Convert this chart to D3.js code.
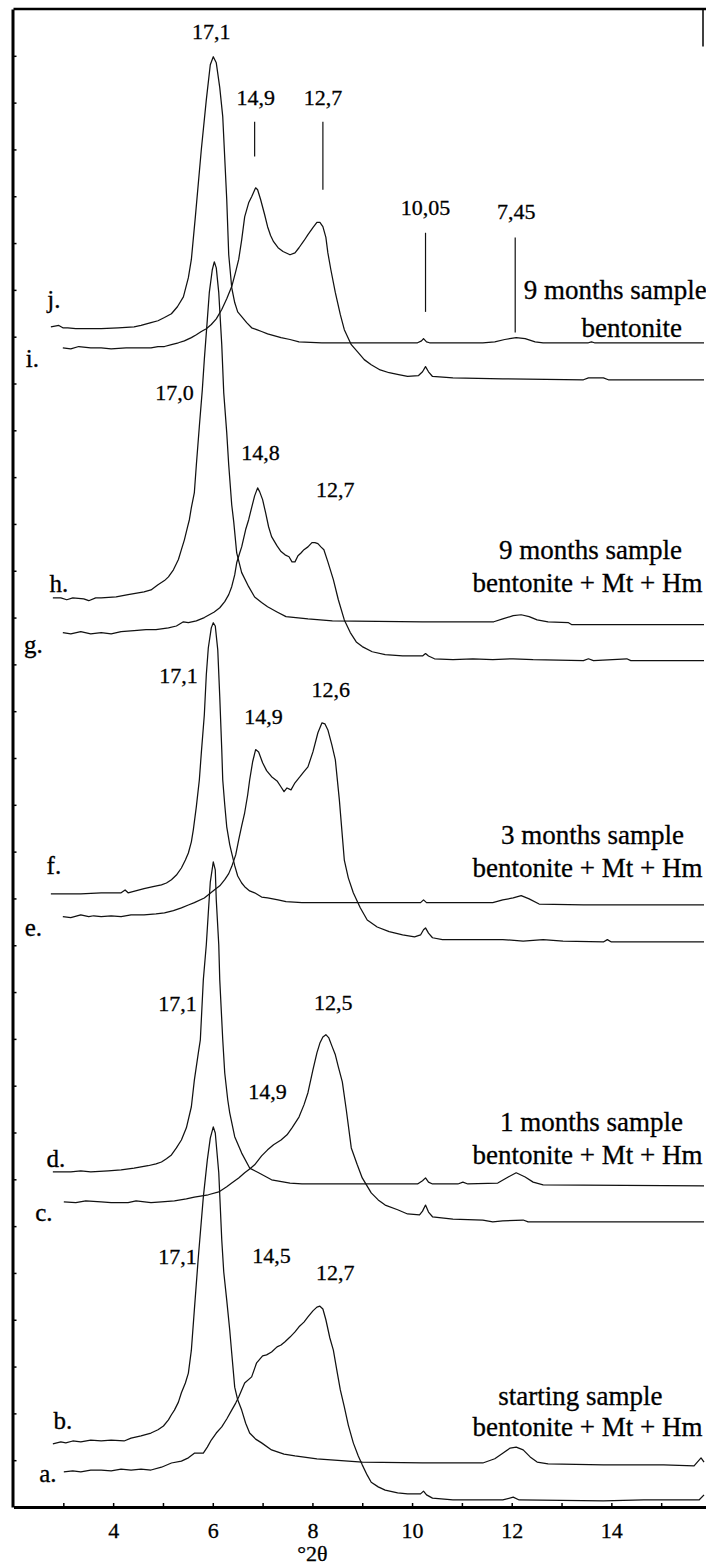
<!DOCTYPE html>
<html>
<head>
<meta charset="utf-8">
<script src="https://cdn.jsdelivr.net/npm/d3@7"></script>
<style>
  html, body { margin: 0; padding: 0; background: #fff; }
  svg { display: block; }
  text { font-family: "Liberation Serif", "Times New Roman", serif; fill: #000; stroke: #000; stroke-width: 0.3px; }
</style>
</head>
<body>
<svg id="chart" width="706" height="1568"></svg>
<script>
// X-ray diffraction patterns (°2θ vs. stacked intensity, arbitrary units)
// Each pattern: [2θ, intensity]
const patternJ = [[2.75,25.21],[2.91,25.24],[2.99,25.19],[3.09,25.19],[3.25,25.17],[3.49,25.17],[3.76,25.17],[4.10,25.19],[4.42,25.21],[4.56,25.24],[4.76,25.30],[4.90,25.34],[5.03,25.41],[5.17,25.49],[5.29,25.64],[5.41,25.85],[5.51,26.26],[5.57,26.65],[5.65,27.56],[5.77,29.00],[5.87,30.06],[5.95,30.81],[6.01,30.98],[6.07,30.85],[6.14,30.32],[6.20,29.70],[6.28,27.93],[6.32,26.75],[6.38,26.05],[6.44,25.73],[6.50,25.53],[6.58,25.43],[6.68,25.30],[6.78,25.19],[6.88,25.15],[6.98,25.11],[7.10,25.06],[7.37,24.98],[7.55,24.94],[7.73,24.89],[8.19,24.87],[10.11,24.87],[10.19,24.91],[10.23,24.96],[10.29,24.89],[10.35,24.87],[11.42,24.87],[11.66,24.89],[11.86,24.94],[12.09,24.98],[12.27,24.96],[12.47,24.89],[12.63,24.87],[13.54,24.87],[13.60,24.89],[13.66,24.87],[15.86,24.87]];
const patternI = [[2.99,24.76],[3.15,24.74],[3.31,24.79],[3.55,24.76],[3.76,24.76],[3.96,24.74],[4.26,24.76],[4.56,24.76],[4.76,24.76],[4.90,24.79],[5.03,24.79],[5.17,24.83],[5.31,24.87],[5.43,24.91],[5.57,24.98],[5.67,25.04],[5.77,25.11],[5.87,25.17],[5.97,25.26],[6.07,25.38],[6.18,25.58],[6.28,25.81],[6.38,26.07],[6.46,26.39],[6.52,26.65],[6.58,27.07],[6.64,27.56],[6.72,27.86],[6.78,27.99],[6.86,28.18],[6.90,28.14],[6.96,27.93],[7.04,27.61],[7.10,27.35],[7.16,27.16],[7.22,27.03],[7.31,26.90],[7.41,26.82],[7.55,26.75],[7.65,26.79],[7.73,26.90],[7.83,27.05],[7.91,27.18],[8.01,27.33],[8.09,27.44],[8.15,27.44],[8.21,27.35],[8.27,27.12],[8.31,26.79],[8.37,26.43],[8.46,25.94],[8.56,25.47],[8.64,25.15],[8.78,24.83],[8.92,24.66],[9.04,24.51],[9.18,24.40],[9.36,24.29],[9.54,24.23],[9.73,24.19],[9.91,24.15],[10.13,24.17],[10.21,24.25],[10.27,24.36],[10.33,24.25],[10.41,24.15],[10.82,24.12],[11.82,24.10],[13.44,24.08],[13.54,24.12],[13.84,24.12],[13.94,24.08],[15.86,24.08]];
const patternH = [[2.79,19.42],[2.95,19.42],[3.07,19.38],[3.19,19.42],[3.41,19.40],[3.51,19.36],[3.65,19.42],[3.76,19.42],[4.06,19.44],[4.30,19.49],[4.62,19.55],[4.76,19.59],[4.90,19.70],[5.03,19.79],[5.11,19.87],[5.21,20.02],[5.31,20.24],[5.37,20.45],[5.43,20.66],[5.49,20.92],[5.53,21.09],[5.57,21.35],[5.63,21.67],[5.67,22.26],[5.73,23.08],[5.79,23.87],[5.83,24.51],[5.89,25.36],[5.93,25.94],[5.99,26.43],[6.03,26.60],[6.07,26.47],[6.12,25.94],[6.18,24.83],[6.22,23.80],[6.28,22.95],[6.32,22.26],[6.38,21.41],[6.42,21.05],[6.48,20.38],[6.58,19.96],[6.72,19.66],[6.84,19.44],[6.98,19.32],[7.10,19.23],[7.29,19.12],[7.47,19.02],[7.91,18.97],[8.40,18.93],[10.21,18.91],[11.64,18.91],[11.82,18.97],[12.03,19.04],[12.19,19.06],[12.35,19.02],[12.51,18.95],[12.73,18.91],[13.14,18.89],[13.20,18.85],[15.86,18.85]];
const patternG = [[2.99,18.68],[3.15,18.65],[3.35,18.70],[3.55,18.65],[3.76,18.68],[3.96,18.65],[4.16,18.70],[4.42,18.72],[4.66,18.74],[4.86,18.74],[5.11,18.78],[5.27,18.82],[5.41,18.91],[5.51,18.89],[5.67,18.93],[5.83,19.00],[5.93,19.06],[6.03,19.12],[6.14,19.21],[6.24,19.34],[6.32,19.49],[6.38,19.66],[6.44,19.91],[6.48,20.17],[6.54,20.38],[6.58,20.51],[6.66,20.88],[6.72,21.09],[6.78,21.35],[6.84,21.60],[6.90,21.77],[6.94,21.69],[7.00,21.52],[7.06,21.24],[7.12,20.94],[7.18,20.73],[7.29,20.53],[7.37,20.41],[7.45,20.34],[7.53,20.30],[7.59,20.19],[7.65,20.19],[7.71,20.32],[7.77,20.38],[7.83,20.45],[7.91,20.51],[7.99,20.60],[8.05,20.60],[8.11,20.58],[8.17,20.51],[8.23,20.45],[8.31,20.19],[8.42,19.81],[8.52,19.38],[8.64,18.95],[8.76,18.68],[8.88,18.48],[9.00,18.38],[9.20,18.27],[9.46,18.21],[9.81,18.18],[10.21,18.18],[10.27,18.23],[10.33,18.18],[10.45,18.12],[10.82,18.10],[11.22,18.12],[11.62,18.10],[12.03,18.12],[12.43,18.10],[13.44,18.08],[13.54,18.12],[13.64,18.08],[14.31,18.12],[14.39,18.08],[15.86,18.08]];
const patternF = [[2.75,13.10],[3.35,13.10],[3.76,13.12],[4.16,13.12],[4.24,13.18],[4.30,13.12],[4.62,13.21],[4.80,13.25],[4.97,13.29],[5.07,13.33],[5.17,13.40],[5.27,13.50],[5.37,13.65],[5.45,13.82],[5.51,13.97],[5.57,14.21],[5.61,14.47],[5.67,14.96],[5.73,15.53],[5.77,16.11],[5.83,16.92],[5.87,17.78],[5.91,18.35],[5.97,18.78],[6.01,18.89],[6.05,18.82],[6.10,18.31],[6.14,17.31],[6.18,16.18],[6.20,15.53],[6.24,15.00],[6.28,14.53],[6.34,14.15],[6.38,13.97],[6.44,13.70],[6.50,13.48],[6.58,13.33],[6.64,13.25],[6.74,13.16],[6.84,13.12],[6.98,13.03],[7.10,13.01],[7.31,12.97],[7.47,12.93],[7.79,12.91],[10.17,12.91],[10.23,12.97],[10.29,12.91],[11.62,12.91],[11.82,12.97],[12.03,13.01],[12.19,13.06],[12.35,12.99],[12.55,12.88],[13.44,12.86],[15.86,12.86]];
const patternE = [[2.99,12.61],[3.15,12.59],[3.35,12.65],[3.51,12.61],[3.61,12.63],[3.76,12.61],[3.96,12.63],[4.16,12.61],[4.36,12.65],[4.62,12.65],[4.86,12.67],[5.03,12.69],[5.21,12.74],[5.37,12.80],[5.51,12.86],[5.63,12.91],[5.83,13.01],[6.03,13.18],[6.14,13.27],[6.24,13.40],[6.32,13.53],[6.38,13.68],[6.46,13.93],[6.52,14.25],[6.58,14.55],[6.64,14.83],[6.70,15.21],[6.74,15.53],[6.80,15.92],[6.86,16.18],[6.92,16.13],[7.00,15.90],[7.08,15.73],[7.18,15.60],[7.29,15.51],[7.37,15.38],[7.43,15.28],[7.49,15.36],[7.57,15.32],[7.65,15.47],[7.75,15.60],[7.83,15.71],[7.91,15.81],[8.01,16.13],[8.11,16.54],[8.19,16.75],[8.25,16.73],[8.31,16.60],[8.39,16.28],[8.46,15.96],[8.54,15.11],[8.64,13.82],[8.72,13.44],[8.82,13.12],[8.96,12.80],[9.10,12.54],[9.30,12.39],[9.54,12.29],[9.81,12.22],[10.05,12.18],[10.17,12.22],[10.23,12.33],[10.27,12.37],[10.33,12.26],[10.41,12.16],[10.61,12.12],[11.82,12.12],[12.23,12.09],[12.63,12.12],[13.03,12.09],[13.84,12.07],[13.92,12.12],[14.00,12.07],[15.86,12.07]];
const patternD = [[2.79,7.16],[3.15,7.16],[3.35,7.18],[3.55,7.16],[3.90,7.18],[4.16,7.20],[4.42,7.24],[4.70,7.29],[4.86,7.33],[4.97,7.37],[5.07,7.44],[5.17,7.52],[5.27,7.67],[5.37,7.84],[5.47,8.10],[5.57,8.55],[5.63,9.12],[5.71,9.70],[5.75,9.98],[5.81,11.26],[5.87,12.01],[5.91,12.69],[5.95,13.35],[6.01,13.78],[6.05,13.61],[6.07,12.97],[6.12,12.01],[6.14,11.26],[6.20,9.98],[6.24,9.27],[6.30,8.70],[6.34,8.42],[6.44,7.91],[6.58,7.56],[6.74,7.24],[6.92,7.14],[7.18,6.99],[7.55,6.92],[7.79,6.90],[10.11,6.90],[10.21,6.97],[10.27,7.03],[10.33,6.94],[10.41,6.90],[10.92,6.90],[11.02,6.94],[11.12,6.90],[11.72,6.92],[11.93,7.05],[12.09,7.14],[12.27,7.05],[12.43,6.94],[12.63,6.88],[15.86,6.86]];
const patternC = [[3.01,6.52],[3.25,6.50],[3.45,6.54],[3.76,6.52],[3.96,6.50],[4.30,6.50],[4.46,6.54],[4.76,6.50],[4.97,6.52],[5.23,6.54],[5.47,6.58],[5.63,6.62],[5.91,6.67],[6.12,6.73],[6.28,6.84],[6.38,6.92],[6.52,7.03],[6.64,7.14],[6.74,7.22],[6.84,7.31],[6.98,7.50],[7.10,7.63],[7.22,7.74],[7.37,7.84],[7.49,7.95],[7.59,8.10],[7.73,8.33],[7.83,8.59],[7.91,8.85],[8.01,9.34],[8.09,9.70],[8.15,9.91],[8.21,10.04],[8.27,10.09],[8.33,10.02],[8.39,9.85],[8.46,9.66],[8.52,9.40],[8.60,9.08],[8.68,8.48],[8.78,7.67],[8.90,7.31],[9.00,7.03],[9.18,6.71],[9.32,6.56],[9.46,6.45],[9.71,6.35],[9.91,6.26],[10.15,6.24],[10.21,6.32],[10.27,6.45],[10.33,6.30],[10.41,6.20],[10.82,6.15],[11.42,6.13],[11.62,6.09],[11.82,6.11],[12.23,6.13],[12.33,6.09],[15.86,6.09]];
const patternB = [[2.79,1.35],[2.95,1.39],[3.05,1.37],[3.19,1.41],[3.35,1.39],[3.55,1.43],[3.76,1.41],[3.96,1.43],[4.22,1.41],[4.36,1.47],[4.56,1.52],[4.76,1.58],[4.90,1.65],[5.01,1.73],[5.11,1.86],[5.17,1.97],[5.23,2.07],[5.31,2.24],[5.37,2.44],[5.45,2.65],[5.51,2.86],[5.57,3.35],[5.63,4.21],[5.71,5.34],[5.81,6.62],[5.89,7.41],[5.95,7.88],[6.01,8.12],[6.05,7.99],[6.12,7.14],[6.18,5.71],[6.22,5.02],[6.28,4.42],[6.34,3.78],[6.38,3.29],[6.44,2.56],[6.50,2.29],[6.58,2.07],[6.66,1.79],[6.74,1.58],[6.86,1.45],[6.98,1.37],[7.18,1.22],[7.43,1.13],[7.65,1.09],[8.09,1.03],[9.00,0.96],[10.21,0.94],[11.42,0.94],[11.66,1.03],[11.82,1.15],[11.97,1.26],[12.09,1.28],[12.23,1.22],[12.37,1.07],[12.51,0.96],[12.73,0.92],[13.84,0.90],[15.05,0.90],[15.66,0.88],[15.80,1.05],[15.86,0.96]];
const patternA = [[3.01,0.75],[3.19,0.77],[3.35,0.75],[3.55,0.79],[3.76,0.79],[3.96,0.77],[4.16,0.81],[4.36,0.79],[4.56,0.81],[4.76,0.79],[4.97,0.85],[5.17,0.94],[5.37,0.98],[5.51,1.05],[5.63,1.15],[5.81,1.15],[5.89,1.28],[5.97,1.43],[6.07,1.58],[6.18,1.71],[6.28,1.88],[6.38,2.07],[6.46,2.22],[6.52,2.35],[6.64,2.65],[6.78,2.78],[6.88,3.08],[7.00,3.23],[7.08,3.25],[7.18,3.31],[7.29,3.42],[7.37,3.46],[7.45,3.53],[7.55,3.63],[7.65,3.74],[7.73,3.85],[7.83,3.95],[7.91,4.06],[8.01,4.19],[8.09,4.27],[8.15,4.29],[8.21,4.23],[8.27,4.00],[8.35,3.61],[8.42,3.35],[8.50,2.86],[8.56,2.50],[8.64,2.14],[8.72,1.75],[8.82,1.37],[8.92,1.09],[9.00,0.90],[9.10,0.68],[9.18,0.53],[9.32,0.43],[9.46,0.36],[9.71,0.30],[9.91,0.28],[10.17,0.28],[10.23,0.34],[10.29,0.26],[10.41,0.19],[10.82,0.15],[11.82,0.15],[12.03,0.21],[12.15,0.15],[13.84,0.13],[14.65,0.15],[15.76,0.15],[15.86,0.26]];

const patterns = [patternA, patternB, patternC, patternD, patternE, patternF, patternG, patternH, patternI, patternJ];

// Pattern letters: [text, 2θ, intensity]
const patternLetters = [["a.",2.69,0.73],["b.",2.99,1.86],["c.",2.61,6.30],["d.",2.85,7.46],["e.",2.40,12.39],["f.",2.81,13.70],["g.",2.40,18.42],["h.",2.91,19.74],["i.",2.38,24.55],["j.",2.81,25.79]];

// d-spacing (Å) labels: [text, 2θ, intensity]
const spacingLabels = [
  ["17,1",5.97,31.52],["14,9",6.86,30.11],["12,7",8.21,30.11],["10,05",10.27,27.76],["7,45",12.09,27.67],
  ["17,0",5.23,23.82],["14,8",6.96,22.52],["12,7",8.46,21.73],
  ["17,1",5.31,17.76],["14,9",7.02,16.90],["12,6",8.37,17.46],
  ["17,1",5.29,10.77],["12,5",8.42,10.79],["14,9",7.10,8.87],
  ["17,1",5.29,5.36],["14,5",7.18,5.38],["12,7",8.46,5.02]
];

// reflection markers: [2θ, top, bottom]
const markers = [[6.84,29.59,28.85],[8.21,29.59,28.14],[10.27,27.22,25.53],[12.07,27.12,25.09]];

// sample descriptions: [text, 2θ, intensity]
const sampleNotes = [
  ["9 months sample",14.08,26.00],["bentonite",14.41,25.19],
  ["9 months sample",13.58,20.45],["bentonite + Mt + Hm",13.52,19.74],
  ["3 months sample",13.62,14.36],["bentonite + Mt + Hm",13.52,13.65],
  ["1 months sample",13.60,8.23],["bentonite + Mt + Hm",13.52,7.52],
  ["starting sample",13.38,2.39],["bentonite + Mt + Hm",13.52,1.71]
];

const xMajorTicks = [4, 6, 8, 10, 12, 14];
const xMinorTicks = [3, 4, 5, 6, 7, 8, 9, 10, 11, 12, 13, 14, 15];
const yTicks = d3.range(1, 32);
const xTitle = "°2θ";

const svg = d3.select("#chart");
const x = d3.scaleLinear().domain([2, 16]).range([13.5, 711]);
const y = d3.scaleLinear().domain([0, 32]).range([1507, 9]);

// frame: top edge and a short right edge
svg.append("line").attr("x1", x(2)).attr("x2", 706).attr("y1", y(32)).attr("y2", y(32))
  .attr("stroke", "#000").attr("stroke-width", 2.5);
svg.append("line").attr("x1", 703).attr("x2", 703).attr("y1", y(32)).attr("y2", y(31.2))
  .attr("stroke", "#000").attr("stroke-width", 1.5);

// bottom axis with inward ticks
const xAxis = svg.append("g").attr("transform", `translate(0,${y(0)})`)
  .call(d3.axisBottom(x).tickValues(xMinorTicks).tickSize(-4).tickSizeOuter(0).tickPadding(15)
    .tickFormat(d => xMajorTicks.includes(d) ? d : ""));
xAxis.select(".domain").attr("stroke", "#000").attr("stroke-width", 3);
xAxis.selectAll(".tick line").attr("stroke", "#000").attr("stroke-width", 1.5);
xAxis.selectAll(".tick text").style("font-size", "22px").style("fill", "#000");

// left axis with inward ticks
const yAxis = svg.append("g").attr("transform", `translate(${x(2) - 1},0)`)
  .call(d3.axisLeft(y).tickValues(yTicks).tickSize(-4).tickSizeOuter(0).tickFormat(""));
yAxis.select(".domain").attr("stroke", "#000").attr("stroke-width", 3);
yAxis.selectAll(".tick line").attr("stroke", "#000").attr("stroke-width", 1.5);

svg.append("text").attr("x", x(8)).attr("y", 1561).attr("text-anchor", "middle")
  .style("font-size", "22px").text(xTitle);

// diffraction traces
const line = d3.line().x(d => x(d[0])).y(d => y(d[1]));
svg.append("g").selectAll("path").data(patterns).join("path")
  .attr("d", line).attr("fill", "none").attr("stroke", "#111")
  .attr("stroke-width", 1.25).attr("stroke-linejoin", "round");

// reflection markers
svg.append("g").selectAll("line").data(markers).join("line")
  .attr("x1", d => x(d[0])).attr("x2", d => x(d[0]))
  .attr("y1", d => y(d[1])).attr("y2", d => y(d[2]))
  .attr("stroke", "#111").attr("stroke-width", 1.2);

svg.append("g").selectAll("text").data(spacingLabels).join("text")
  .attr("x", d => x(d[1])).attr("y", d => y(d[2])).attr("dy", "0.35em")
  .attr("text-anchor", "middle").style("font-size", "22px").text(d => d[0]);

svg.append("g").selectAll("text").data(patternLetters).join("text")
  .attr("x", d => x(d[1])).attr("y", d => y(d[2])).attr("dy", "0.35em")
  .attr("text-anchor", "middle").style("font-size", "25px").text(d => d[0]);

svg.append("g").selectAll("text").data(sampleNotes).join("text")
  .attr("x", d => x(d[1])).attr("y", d => y(d[2])).attr("dy", "0.35em")
  .attr("text-anchor", "middle").style("font-size", "27px").text(d => d[0]);
</script>
</body>
</html>
